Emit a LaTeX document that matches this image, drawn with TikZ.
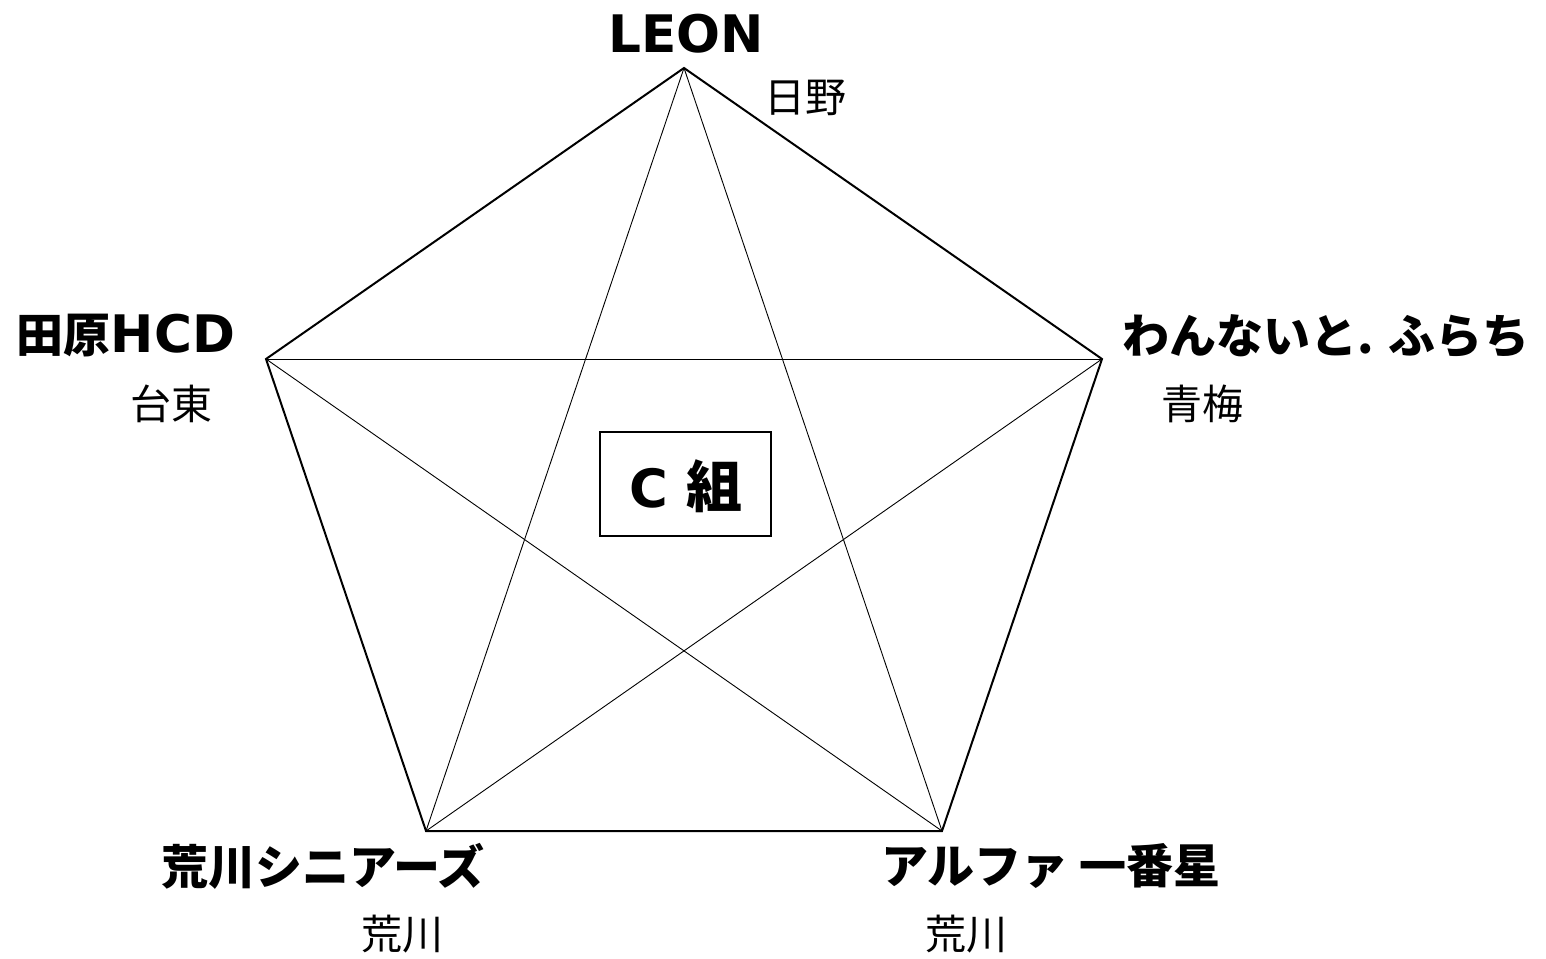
\documentclass[tikz,border=0pt]{standalone}
\usepackage{fontspec}
\setmainfont{DejaVu Sans}[Scale=1.1]
\newfontfamily\jp{Noto Sans CJK JP}
\usetikzlibrary{positioning}
\tikzset{
  team/.style = {inner sep=0pt, font=\fontsize{47}{50}\selectfont\bfseries},
  town/.style = {inner sep=0pt, font=\jp\fontsize{41}{45}\selectfont},
  rim/.style = {line width=2pt, line join=miter},
  chord/.style = {line width=0.9pt}
}

\begin{document}
\begin{tikzpicture}[x=1pt, y=-1pt]

  \useasboundingbox (0,0) rectangle (1546,958);

  %% Vertices
  \coordinate (leon) at (684,68);
  \coordinate (tahara) at (266,359);
  \coordinate (wan) at (1102,359);
  \coordinate (arakawa) at (426,831);
  \coordinate (alpha) at (942,831);

  % Outline
  \draw[rim] (leon) -- (wan) -- (alpha) -- (arakawa) -- (tahara) -- cycle;

  % Star
  \draw[chord] (leon) -- (arakawa);
  \draw[chord] (leon) -- (alpha);
  \draw[chord] (tahara) -- (wan);
  \draw[chord] (tahara) -- (alpha);
  \draw[chord] (wan) -- (arakawa);

  %% Group box
  \node[draw, line width=1.5pt, minimum width=171pt, minimum height=104pt] (group) at (685.5,484) {};
  \node (grouptext) at (686,486) {\fontsize{48}{52}\selectfont\bfseries C {\jp\fontsize{56}{60}\selectfont 組}};

  %% Teams
  \node[team] (leonname) at (686,34) {LEON};
  \node[town] (leontown) at (805,98) {日野};

  \node[team] (taharaname) at (126,336) {{\jp 田原}HCD};
  \node[town] (taharatown) at (171,404) {台東};

  \node[team] (wanname) at (1326,336) {\jp わんないと. ふらち};
  \node[town] (wantown) at (1202,404) {青梅};

  \node[team] (arakawaname) at (323,866) {\jp 荒川シニアーズ};
  \node[town] (arakawatown) at (402,934) {荒川};

  \node[team] (alphaname) at (1051,866) {\jp アルファ 一番星};
  \node[town] (alphatown) at (966,934) {荒川};

\end{tikzpicture}
\end{document}
